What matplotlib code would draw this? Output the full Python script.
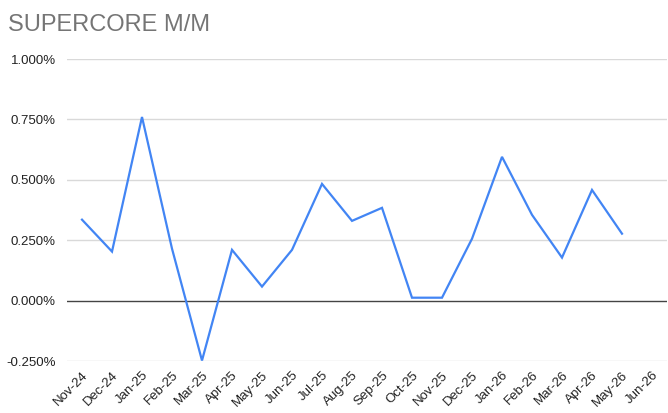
import matplotlib
matplotlib.use("Agg")
import matplotlib.pyplot as plt
import numpy as np

months = ["Nov-24", "Dec-24", "Jan-25", "Feb-25", "Mar-25", "Apr-25", "May-25", "Jun-25",
          "Jul-25", "Aug-25", "Sep-25", "Oct-25", "Nov-25", "Dec-25", "Jan-26", "Feb-26",
          "Mar-26", "Apr-26", "May-26", "Jun-26"]
values = [0.335, 0.203, 0.760, 0.215, -0.248, 0.210, 0.058, 0.210,
          0.483, 0.330, 0.384, 0.012, 0.012, 0.256, 0.595, 0.355,
          0.178, 0.458, 0.277, np.nan]
yticks = [-0.25, 0.0, 0.25, 0.5, 0.75, 1.0]

plt.rcParams['font.family'] = ['Liberation Sans', 'DejaVu Sans']

fig = plt.figure(figsize=(6.68, 4.13), dpi=100)
ax = fig.add_axes([67/668, 1-361/413, 600/668, (361-59)/413])

x = np.arange(len(months))
ax.plot(x, values, color="#4285F4", lw=1.6, solid_joinstyle="miter", zorder=3)

ax.set_xlim(-0.5, len(months) - 0.5)
ax.set_ylim(-0.25, 1.0)
ax.set_yticks(yticks)
ax.set_yticklabels([f"{v:.3f}%" for v in yticks], fontsize=9.5, color="#222222")
for v in yticks:
    if v == 0:
        ax.axhline(v, color="#444444", lw=1.0, zorder=2)
    else:
        ax.axhline(v, color="#d9d9d9", lw=1.0, zorder=1)

ax.set_xticks(x)
ax.set_xticklabels(months, rotation=45, ha="right", va="top", fontsize=9.5,
                   color="#222222", rotation_mode="anchor")
ax.tick_params(axis="both", length=0)
ax.tick_params(axis="y", pad=8)
ax.tick_params(axis="x", pad=6)
for s in ax.spines.values():
    s.set_visible(False)

fig.text(8/668, 1-25/413, "SUPERCORE M/M", fontsize=17, color="#757575",
         ha="left", va="center")

fig.savefig("out.png", dpi=100)
